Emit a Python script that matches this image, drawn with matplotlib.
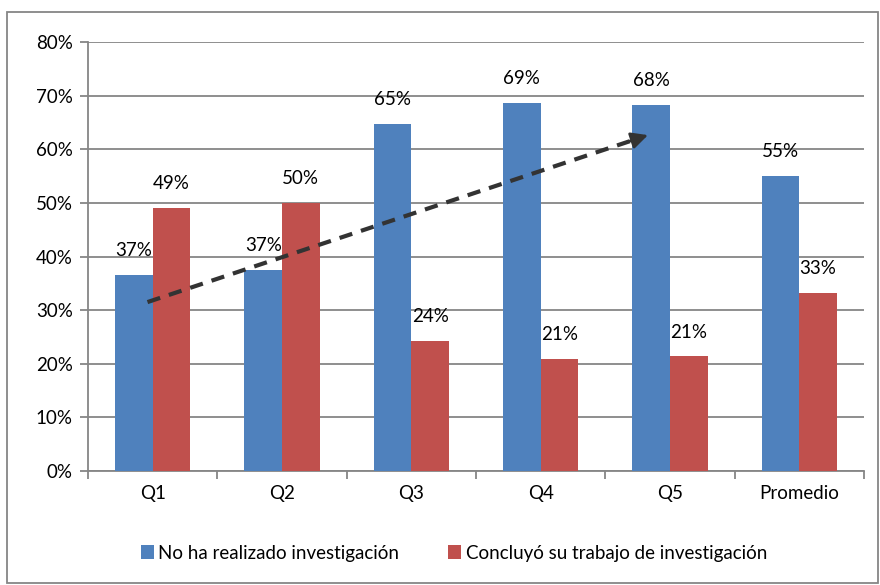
import matplotlib
matplotlib.use("Agg")
import matplotlib.pyplot as plt
import numpy as np
from matplotlib.patches import Rectangle

categories = ["Q1", "Q2", "Q3", "Q4", "Q5", "Promedio"]
no_investigacion = [0.366, 0.375, 0.647, 0.687, 0.683, 0.550]
concluyo = [0.491, 0.500, 0.243, 0.209, 0.214, 0.332]
labels_no = ["37%", "37%", "65%", "69%", "68%", "55%"]
labels_si = ["49%", "50%", "24%", "21%", "21%", "33%"]
serie_names = ["No ha realizado investigación", "Concluyó su trabajo de investigación"]

# trend arrow (data coords: category index, share)
arrow_start = (-0.04, 0.315)
arrow_end = (3.85, 0.628)

blue = "#4F81BD"
red = "#C0504D"
grid_c = "#868686"
fs = 13.5

plt.rcParams["font.family"] = ["Lato", "DejaVu Sans"]

fig = plt.figure(figsize=(8.8, 5.85), dpi=100)
ax = fig.add_axes([88 / 880, 1 - 471 / 585, (864 - 88) / 880, (471 - 42) / 585])

x = np.arange(len(categories))
w = 0.29
b1 = ax.bar(x - w / 2, no_investigacion, w, color=blue, label=serie_names[0], zorder=3)
b2 = ax.bar(x + w / 2, concluyo, w, color=red, label=serie_names[1], zorder=3)

for i in range(len(categories)):
    ax.text(x[i] - w / 2, no_investigacion[i] + 0.045, labels_no[i], ha="center", va="center",
            fontsize=fs, zorder=5)
    ax.text(x[i] + w / 2, concluyo[i] + 0.045, labels_si[i], ha="center", va="center",
            fontsize=fs, zorder=5)

# dashed trend arrow
ax.plot([arrow_start[0], arrow_end[0] - 0.12], [arrow_start[1], arrow_end[1] - 0.0097],
        color="#333333", lw=3, ls=(0, (3.2, 2.2)), zorder=6, solid_capstyle="butt")
ax.annotate("", xy=arrow_end, xytext=(arrow_end[0] - 0.2, arrow_end[1] - 0.016),
            arrowprops=dict(arrowstyle="-|>,head_length=1.0,head_width=0.5", color="#333333", lw=2),
            zorder=7)

ax.set_xlim(-0.5, len(categories) - 0.5)
ax.set_ylim(0, 0.8)
ax.set_yticks(np.arange(0, 0.81, 0.1))
ax.set_yticklabels([f"{int(round(v * 100))}%" for v in np.arange(0, 0.81, 0.1)], fontsize=fs)
ax.yaxis.grid(True, color=grid_c, lw=1.3, zorder=0)
ax.set_axisbelow(True)

ax.set_xticks(x)
ax.set_xticklabels(categories, fontsize=fs)
ax.set_xticks(np.arange(-0.5, len(categories)), minor=True)
ax.tick_params(axis="x", which="major", length=0, pad=10)
ax.tick_params(axis="x", which="minor", length=6, color=grid_c, width=1.3, direction="out")
ax.tick_params(axis="y", length=6, color=grid_c, width=1.3, pad=5)

for s in ["top", "right"]:
    ax.spines[s].set_visible(False)
for s in ["left", "bottom"]:
    ax.spines[s].set_color(grid_c)
    ax.spines[s].set_linewidth(1.3)

leg = fig.legend(handles=[b1, b2], loc="center", bbox_to_anchor=(454 / 880, 1 - 553 / 585),
                 ncol=2, frameon=False, fontsize=fs, handlelength=0.7, handleheight=0.7,
                 handletextpad=0.25, columnspacing=2.6)

fig.patches.append(Rectangle((7 / 880, 2 / 585), 871 / 880, 571 / 585, transform=fig.transFigure,
                             fill=False, edgecolor=grid_c, lw=1.3))

fig.savefig("out.png", dpi=100)
